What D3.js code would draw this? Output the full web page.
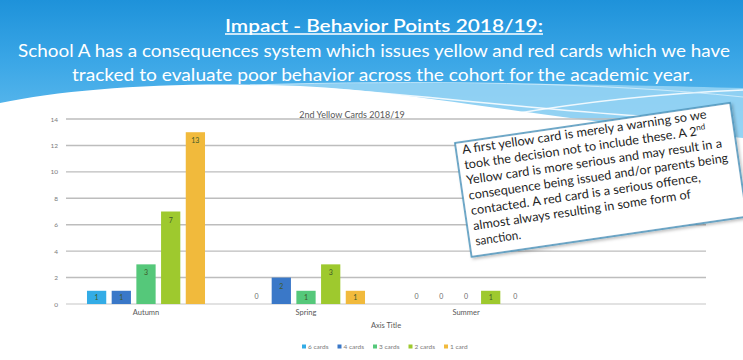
<!DOCTYPE html>
<html>
<head>
<meta charset="utf-8">
<script src="https://cdn.jsdelivr.net/npm/d3@7/dist/d3.min.js"></script>
<style>
  html, body { margin: 0; padding: 0; background: #fff; }
  svg { display: block; }
</style>
</head>
<body>
<svg id="chart" width="743" height="360"></svg>
<script>
// ---------- data ----------
const categories = ["Autumn", "Spring", "Summer"];
const seriesNames = ["6 cards", "4 cards", "3 cards", "2 cards", "1 card"];
const seriesColors = ["#33ace6", "#3a78c8", "#55c87a", "#9ec92e", "#f1ba3c"];
const values6 = [1, 0, 0];
const values4 = [1, 2, 0];
const values3 = [3, 1, 0];
const values2 = [7, 3, 1];
const values1 = [13, 1, 0];
const yTicks = [0, 2, 4, 6, 8, 10, 12, 14];

const slideTitle = "Impact - Behavior Points 2018/19:";
const subtitleLines = [
  "School A has a consequences system which issues yellow and red cards which we have",
  "tracked to evaluate poor behavior across the cohort for the academic year."
];
const chartTitle = "2nd Yellow Cards 2018/19";
const axisTitle = "Axis Title";
const noteLines = [
  ["A first yellow card is merely a warning so we"],
  ["took the decision not to include these. A 2", "nd"],
  ["Yellow card is more serious and may result in a"],
  ["consequence being issued and/or parents being"],
  ["contacted. A red card is a serious offence,"],
  ["almost always resulting in some form of"],
  ["sanction."]
];
const noteWidths = [247, 244, 258, 262, 232, 220, 46];

const seriesValues = [values6, values4, values3, values2, values1];

// ---------- svg ----------
const svg = d3.select("#chart");
const W = 743, H = 360;
const font = "Lato, 'Open Sans', sans-serif";

const defs = svg.append("defs");
const grad = defs.append("linearGradient").attr("id", "bg").attr("x1", 0).attr("y1", 0).attr("x2", 0).attr("y2", 1);
grad.append("stop").attr("offset", "0%").attr("stop-color", "#1e92da");
grad.append("stop").attr("offset", "40%").attr("stop-color", "#3aa6e6");
grad.append("stop").attr("offset", "100%").attr("stop-color", "#6cc2f0");
const sh = defs.append("filter").attr("id", "shadow").attr("x", "-10%").attr("y", "-10%").attr("width", "130%").attr("height", "130%");
sh.append("feDropShadow").attr("dx", 1.5).attr("dy", 2).attr("stdDeviation", 1.5).attr("flood-color", "#000").attr("flood-opacity", 0.25);

svg.append("rect").attr("width", W).attr("height", 150).attr("fill", "url(#bg)");
// light band
svg.append("path")
  .attr("d", "M220,86 C380,80 600,84 743,88 L743,140 C560,122 430,98 330,90 Z")
  .attr("fill", "#a6dbf6").attr("opacity", 0.75);
// white wave
svg.append("path")
  .attr("d", "M0,103 C70,88 180,81 300,86 C420,92 520,116 743,138 L743,360 L0,360 Z")
  .attr("fill", "#ffffff");
// streaks
svg.append("path").attr("d", "M330,89 C430,96 540,110 640,116")
  .attr("fill", "none").attr("stroke", "#fff").attr("stroke-width", 1.5).attr("opacity", 0.85);
svg.append("path").attr("d", "M470,122 C560,104 650,94 743,90")
  .attr("fill", "none").attr("stroke", "#fff").attr("stroke-width", 1.5).attr("opacity", 0.85);
svg.append("path").attr("d", "M250,85 C420,80 600,82 743,97")
  .attr("fill", "none").attr("stroke", "#d8f0fc").attr("stroke-width", 1).attr("opacity", 0.8);

// slide title
svg.append("text")
  .attr("x", 384).attr("y", 31.5)
  .attr("text-anchor", "middle")
  .attr("font-family", font).attr("font-size", 18).attr("font-weight", 600)
  .attr("fill", "#fff")
  .attr("textLength", 318).attr("lengthAdjust", "spacingAndGlyphs")
  .text(slideTitle);
svg.append("line").attr("x1", 225).attr("x2", 543).attr("y1", 34).attr("y2", 34)
  .attr("stroke", "#fff").attr("stroke-width", 1.3);

const subW = [712, 621];
const subX = [374, 382.5];
const subY = [57, 81];
subtitleLines.forEach((s, i) => {
  svg.append("text")
    .attr("x", subX[i]).attr("y", subY[i])
    .attr("text-anchor", "middle")
    .attr("font-family", font).attr("font-size", 17.5)
    .attr("fill", "#fff")
    .attr("textLength", subW[i]).attr("lengthAdjust", "spacingAndGlyphs")
    .text(s);
});

// ---------- chart ----------
const plotLeft = 66, plotRight = 706, plotTop = 119, plotBottom = 304;
const x = d3.scaleBand().domain(categories).range([plotLeft, plotLeft + 3 * 160]);
const xSub = d3.scaleBand().domain(seriesNames).range([0, x.bandwidth()]).paddingInner(0.22).paddingOuter(0.85);
const y = d3.scaleLinear().domain([0, 14]).range([plotBottom, plotTop]);

// gridlines
svg.append("g").selectAll("line").data(yTicks.filter(d => d > 0)).join("line")
  .attr("x1", plotLeft).attr("x2", plotRight)
  .attr("y1", d => y(d)).attr("y2", d => y(d))
  .attr("stroke", "#bdbdbd").attr("stroke-width", 1.4);
svg.append("line").attr("x1", plotLeft).attr("x2", plotRight)
  .attr("y1", y(0)).attr("y2", y(0)).attr("stroke", "#d9d9d9").attr("stroke-width", 1.4);

// y axis (labels only)
const yAxis = d3.axisLeft(y).tickValues(yTicks).tickSize(0).tickPadding(0).tickFormat(d3.format("d"));
const yg = svg.append("g").attr("transform", `translate(${plotLeft - 8},0)`).call(yAxis);
yg.select(".domain").remove();
yg.selectAll("text").attr("font-family", font).attr("font-size", 6.5).attr("fill", "#7a7a7a");

// x axis labels
const xAxis = d3.axisBottom(x).tickSize(0).tickPadding(6);
const xg = svg.append("g").attr("transform", `translate(0,${plotBottom})`).call(xAxis);
xg.select(".domain").remove();
xg.selectAll("text").attr("font-family", font).attr("font-size", 7.5).attr("fill", "#595959");

// chart title
svg.append("text").attr("x", 352).attr("y", 117.5).attr("text-anchor", "middle")
  .attr("font-family", font).attr("font-size", 9).attr("fill", "#595959").text(chartTitle);
// axis title
svg.append("text").attr("x", 386).attr("y", 328).attr("text-anchor", "middle")
  .attr("font-family", font).attr("font-size", 7.5).attr("fill", "#595959").text(axisTitle);

// bars
const flat = [];
categories.forEach((c, ci) => {
  seriesNames.forEach((s, si) => {
    flat.push({ cat: c, series: s, value: seriesValues[si][ci], color: seriesColors[si] });
  });
});
const groups = svg.append("g");
groups.selectAll("rect").data(flat.filter(d => d.value > 0)).join("rect")
  .attr("x", d => x(d.cat) + xSub(d.series))
  .attr("width", xSub.bandwidth())
  .attr("y", d => y(d.value))
  .attr("height", d => y(0) - y(d.value))
  .attr("fill", d => d.color);

// data labels
groups.selectAll("text").data(flat).join("text")
  .attr("x", d => x(d.cat) + xSub(d.series) + xSub.bandwidth() / 2)
  .attr("y", d => d.value === 0 ? y(0) - 5.5 : (d.value === 1 ? (y(1) + y(0)) / 2 + 2.5 : y(d.value) + 11))
  .attr("text-anchor", "middle")
  .attr("font-family", font).attr("font-size", 7)
  .attr("fill", d => d.value === 0 ? "#6b6b6b" : "#3f5a2a")
  .text(d => d.value);

// legend
const legend = svg.append("g");
const legX = d3.scalePoint().domain(seriesNames).range([302, 444]);
seriesNames.forEach((s, i) => {
  const g = legend.append("g").attr("transform", `translate(${legX(s)},347)`);
  g.append("rect").attr("x", 0).attr("y", -2.5).attr("width", 4).attr("height", 4).attr("fill", seriesColors[i]);
  g.append("text").attr("x", 6).attr("y", 1.5).attr("font-family", font).attr("font-size", 6.5)
    .attr("fill", "#7a7a7a").text(s);
});

// ---------- note box ----------
const note = svg.append("g").attr("transform", "translate(455,143) rotate(-8.3)");
note.append("rect").attr("width", 278).attr("height", 115)
  .attr("fill", "#fff").attr("stroke", "#4a93bb").attr("stroke-width", 1.6)
  .attr("filter", "url(#shadow)");
noteLines.forEach((parts, i) => {
  const tx = note.append("text")
    .attr("x", 6).attr("y", 12 + i * 15.4)
    .attr("font-family", font).attr("font-size", 12.5).attr("fill", "#1f1f1f")
    .attr("textLength", noteWidths[i]).attr("lengthAdjust", "spacingAndGlyphs");
  tx.append("tspan").text(parts[0]);
  if (parts[1]) {
    tx.append("tspan").attr("dy", -5).attr("font-size", 8).text(parts[1]);
  }
});
</script>
</body>
</html>
